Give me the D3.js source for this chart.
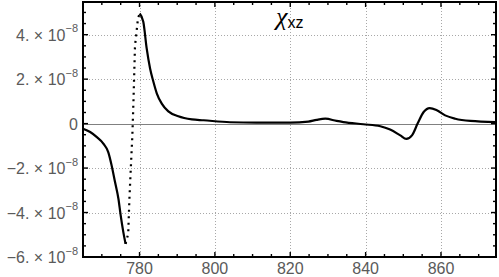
<html>
<head>
<script src="https://d3js.org/d3.v7.min.js"></script>
<style>
  body { margin: 0; background: #fff; }
  svg { display: block; }
</style>
</head>
<body>
<svg id="svg" width="499" height="277"></svg>
<script>
// chi_xz values (units of 1e-8)
var leftX = [765, 766.9, 768.6, 770.4, 771.7, 772.6, 773.5, 774.4, 775.0, 775.7, 776.3];
var leftY = [-0.23, -0.38, -0.60, -0.90, -1.28, -1.88, -2.63, -3.38, -4.13, -4.88, -5.41];

// steep jump, drawn dotted
var jumpX = [776.3, 777.0, 777.3, 777.7, 778.1, 778.4, 778.8, 779.6, 780.05];
var jumpY = [-5.41, -4.95, -3.45, -1.95, -0.53, 1.05, 3.5, 4.74, 4.95];

var rightX = [780.05, 781.0, 781.9, 782.8, 783.7, 784.6, 785.9, 787.65, 790.3, 793.9, 797.0, 804, 811, 820, 824.8, 827, 829.3, 832.3, 834.1, 839.4, 843.9, 846.5, 849.2, 850.8, 852.3, 853.8, 855.4, 857.0, 858.9, 861.1, 863.8, 867.8, 874.5];
var rightY = [4.95, 4.58, 3.38, 2.48, 1.87, 1.35, 0.90, 0.55, 0.33, 0.19, 0.15, 0.06, 0.04, 0.04, 0.09, 0.17, 0.22, 0.12, 0.07, -0.03, -0.12, -0.27, -0.53, -0.69, -0.53, 0, 0.52, 0.70, 0.6, 0.37, 0.22, 0.12, 0.07];

var xMajor = [780, 800, 820, 840, 860];
var yMajor = [-6, -4, -2, 0, 2, 4];

var svg = d3.select("svg");
var pL = 83, pR = 496, pT = 2, pB = 257;

var x = d3.scaleLinear().domain([765, 874.6]).range([pL, pR]);
var y = d3.scaleLinear().domain([-6, 5.47]).range([pB, pT]);

// grid
var grid = svg.append("g").attr("stroke", "#a8a8a8").attr("stroke-width", 1).attr("stroke-dasharray", "1,2");
xMajor.forEach(function(v){
  grid.append("line").attr("x1", Math.round(x(v)) + 0.5).attr("x2", Math.round(x(v)) + 0.5).attr("y1", pT).attr("y2", pB);
});
yMajor.filter(function(v){ return v != 0 && v != -6; }).forEach(function(v){
  grid.append("line").attr("y1", Math.round(y(v)) + 0.5).attr("y2", Math.round(y(v)) + 0.5).attr("x1", pL).attr("x2", pR);
});

// zero line
svg.append("line").attr("x1", pL).attr("x2", pR)
   .attr("y1", Math.round(y(0)) + 0.5).attr("y2", Math.round(y(0)) + 0.5)
   .attr("stroke", "#808080").attr("stroke-width", 1.2);

// curve
var line = d3.line().x(function(d){ return x(d[0]); }).y(function(d){ return y(d[1]); }).curve(d3.curveMonotoneX);
var zip = function(a, b){ return a.map(function(v, i){ return [v, b[i]]; }); };

svg.append("path").attr("d", line(zip(leftX, leftY)))
   .attr("fill", "none").attr("stroke", "#000").attr("stroke-width", 2.2);
svg.append("path").attr("d", d3.line().x(function(d){ return x(d[0]); }).y(function(d){ return y(d[1]); })(zip(jumpX, jumpY)))
   .attr("fill", "none").attr("stroke", "#000").attr("stroke-width", 2.2).attr("stroke-dasharray", "2,4.5");
svg.append("path").attr("d", line(zip(rightX, rightY)))
   .attr("fill", "none").attr("stroke", "#000").attr("stroke-width", 2.2);

// frame ticks
var ticks = svg.append("g").attr("stroke", "#000").attr("stroke-width", 1.4);
d3.range(765, 875, 5).forEach(function(v){
  var len = (v % 20 == 0) ? 5 : 3;
  var px = x(v);
  if (px < pL + 1 || px > pR - 1) return;
  ticks.append("line").attr("x1", px).attr("x2", px).attr("y1", pB).attr("y2", pB - len);
  ticks.append("line").attr("x1", px).attr("x2", px).attr("y1", pT).attr("y2", pT + len);
});
d3.range(-6, 5.5, 0.5).forEach(function(v){
  var len = (Math.abs(v % 2) < 1e-9) ? 5 : 3;
  var py = y(v);
  if (py > pB - 1 || py < pT + 1) return;
  ticks.append("line").attr("y1", py).attr("y2", py).attr("x1", pL).attr("x2", pL + len);
  ticks.append("line").attr("y1", py).attr("y2", py).attr("x1", pR).attr("x2", pR - len);
});

// frame
svg.append("rect").attr("x", pL).attr("y", pT).attr("width", pR - pL).attr("height", pB - pT)
   .attr("fill", "none").attr("stroke", "#000").attr("stroke-width", 2);

// tick labels
var lab = svg.append("g").attr("fill", "#5a5a5a").attr("font-family", "Liberation Sans, Arial, sans-serif").attr("font-size", 16);
xMajor.forEach(function(v){
  lab.append("text").attr("x", x(v)).attr("y", 274).attr("text-anchor", "middle").text(v);
});
yMajor.forEach(function(v){
  var t = lab.append("text").attr("x", 78).attr("y", y(v) + 6).attr("text-anchor", "end");
  if (v == 0) { t.text("0"); return; }
  t.append("tspan").text((v < 0 ? "\u2212" : "") + Math.abs(v) + ". \u00d7 10");
  t.append("tspan").attr("dy", -8.5).attr("font-size", 11).text("\u22128");
});

// title
var title = svg.append("text").attr("x", 276).attr("y", 25).attr("fill", "#000");
title.append("tspan").attr("font-family", "Liberation Serif, serif").attr("font-style", "italic").attr("font-size", 26).text("\u03c7");
title.append("tspan").attr("font-family", "Liberation Sans, Arial, sans-serif").attr("font-size", 16).attr("dy", 3).text("xz");
</script>
</body>
</html>
